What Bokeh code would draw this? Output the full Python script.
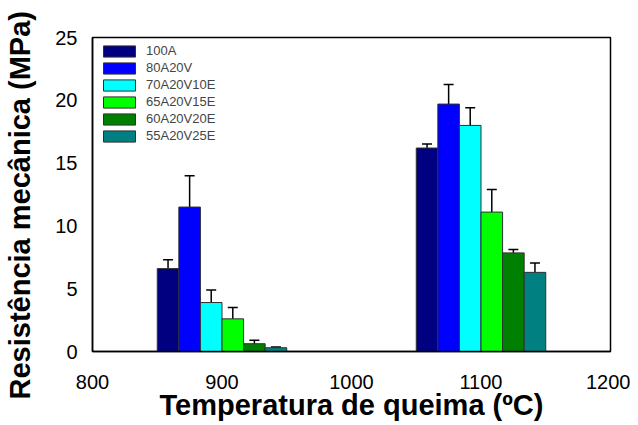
from bokeh.plotting import figure
from bokeh.models import ColumnDataSource, Whisker, TeeHead, Legend, LegendItem, FixedTicker, Title
from bokeh.embed import file_html
from bokeh.resources import INLINE

temps = [900, 1100]
series = ["100A", "80A20V", "70A20V10E", "65A20V15E", "60A20V20E", "55A20V25E"]
colors = ["#000080", "#0000FF", "#00FFFF", "#00FF00", "#008000", "#008080"]
vals_900 = [6.6, 11.5, 3.9, 2.6, 0.62, 0.3]
errs_900 = [0.7, 2.5, 1.0, 0.9, 0.28, 0.06]
vals_1100 = [16.2, 19.7, 18.0, 11.1, 7.85, 6.3]
errs_1100 = [0.33, 1.56, 1.4, 1.8, 0.28, 0.75]
y_ticks = [0, 5, 10, 15, 20, 25]
x_ticks = [800, 900, 1000, 1100, 1200]
x_title = "Temperatura de queima (ºC)"
y_title = "Resistência mecânica (MPa)"

FONT = "Liberation Sans"
group_span = 100.0
w = group_span / len(series)
W, H = 630, 424

p = figure(width=W, height=H, x_range=(800, 1200), y_range=(0, 25),
           output_backend="svg", toolbar_location=None,
           min_border_left=92, min_border_right=20, min_border_top=37, min_border_bottom=73)
p.xgrid.visible = False
p.ygrid.visible = False

items = []
for i, name in enumerate(series):
    xs = [t + (i - (len(series) - 1) / 2) * w for t in temps]
    vals = [vals_900[i], vals_1100[i]]
    errs = [errs_900[i], errs_1100[i]]
    src = ColumnDataSource(dict(x=xs, top=vals,
                                upper=[v + e for v, e in zip(vals, errs)],
                                lower=[v - e for v, e in zip(vals, errs)]))
    r = p.vbar(x="x", top="top", width=w, bottom=0, source=src,
               fill_color=colors[i], line_color="#303030", line_width=1)
    wk = Whisker(base="x", upper="upper", lower="lower", source=src,
                 line_color="black", line_width=1.5,
                 upper_head=TeeHead(size=10, line_color="black", line_width=1.5),
                 lower_head=TeeHead(size=10, line_color="black", line_width=1.5))
    p.add_layout(wk)
    items.append(LegendItem(label=name, renderers=[r]))

legend = Legend(items=items, location=(1, 202), margin=0, padding=6,
                spacing=2, glyph_width=40, glyph_height=14, label_height=15,
                label_text_font=FONT, label_text_font_size="13px",
                label_standoff=7, border_line_alpha=0, background_fill_alpha=0)
p.add_layout(legend, "center")

p.outline_line_color = "black"
p.outline_line_width = 1.5
p.outline_line_alpha = 1

for ax in (p.xaxis[0], p.yaxis[0]):
    ax.major_tick_out = 0
    ax.major_tick_in = 0
    ax.minor_tick_out = 0
    ax.minor_tick_in = 0
    ax.axis_line_color = "black"
    ax.axis_line_width = 1.5
    ax.major_label_text_font = FONT
    ax.major_label_text_font_size = "20px"
    ax.major_label_text_color = "black"
    ax.axis_label_text_font = FONT
    ax.axis_label_text_font_size = "29px"
    ax.axis_label_text_font_style = "bold"
    ax.axis_label_text_color = "black"

p.xaxis[0].ticker = FixedTicker(ticks=x_ticks)
p.yaxis[0].ticker = FixedTicker(ticks=y_ticks)
p.xaxis[0].axis_label = x_title
p.xaxis[0].major_label_standoff = 23
p.xaxis[0].axis_label_standoff = -3
p.yaxis[0].major_label_standoff = 15
# thin invisible spacer so the y title sits further out, as in the reference
p.yaxis[0].axis_label = "\u00a0"
p.yaxis[0].axis_label_text_font_size = "1px"
p.yaxis[0].axis_label_standoff = 10

ytitle = Title(text=y_title, align="left", offset=-48, vertical_align="middle",
               standoff=4, text_font=FONT, text_font_size="29px",
               text_font_style="bold", text_color="black")
p.add_layout(ytitle, "left")

open("out.html", "w").write(file_html(p, INLINE))
